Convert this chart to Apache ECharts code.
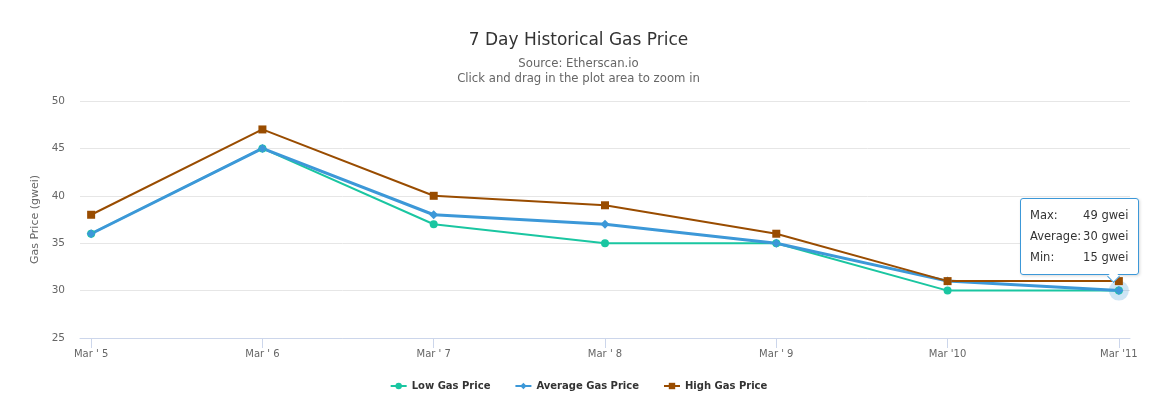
<!DOCTYPE html>
<html>
<head>
<meta charset="utf-8">
<title>7 Day Historical Gas Price</title>
<script src="https://cdn.jsdelivr.net/npm/echarts@6/dist/echarts.min.js"></script>
<style>
  html, body { margin: 0; padding: 0; background: #fff; }
  #chart { width: 1157px; height: 403px; }
</style>
</head>
<body>
<div id="chart"></div>
<script>
// Data
const categories = ["Mar ' 5", "Mar ' 6", "Mar ' 7", "Mar ' 8", "Mar ' 9", "Mar '10", "Mar '11"];
const lowValues = [36, 45, 37, 35, 35, 30, 30];
const averageValues = [36, 45, 38, 37, 35, 31, 30];
const highValues = [38, 47, 40, 39, 36, 31, 31];
const yTicks = [25, 30, 35, 40, 45, 50];

// Tooltip shown on the last day (as in the reference)
const tipLabels = ['Max:', 'Average:', 'Min:'];
const tipValues = [49, 30, 15];
const tipIndex = 6;

const FONT = '"DejaVu Sans", Verdana, sans-serif';
const COLORS = { low: '#1ac6a1', average: '#3c98d8', high: '#994c00' };

// x is a value axis so the plot can have a little padding either side,
// ticks and labels are pinned to the category indexes
const catIndex = categories.map((_, i) => i);
const pairs = (arr) => arr.map((v, i) => [i, v]);

const chart = echarts.init(document.getElementById('chart'), null, { renderer: 'canvas' });

const subStyle = { fontFamily: FONT, fontSize: 11.7, fontWeight: 'normal', color: '#666' };

chart.setOption({
  animation: false,
  backgroundColor: '#fff',
  textStyle: { fontFamily: FONT },
  title: [
    {
      text: '7 Day Historical Gas Price',
      left: 'center',
      top: 27,
      textStyle: { fontFamily: FONT, fontSize: 17, fontWeight: 'normal', color: '#333' },
    },
    { text: 'Source: Etherscan.io', left: 'center', top: 58, padding: 0, textStyle: subStyle },
    { text: 'Click and drag in the plot area to zoom in', left: 'center', top: 73, padding: 0, textStyle: subStyle },
  ],
  grid: { left: 80, right: 27, top: 101, bottom: 65 },
  legend: {
    bottom: 7,
    left: 'center',
    itemGap: 24,
    itemWidth: 16,
    itemHeight: 8,
    textStyle: { fontFamily: FONT, fontSize: 10, fontWeight: 'bold', color: '#333' },
    data: ['Low Gas Price', 'Average Gas Price', 'High Gas Price'],
  },
  tooltip: {
    trigger: 'item',
    alwaysShowContent: true,
    showDelay: 0,
    transitionDuration: 0,
    backgroundColor: 'rgba(255,255,255,0.96)',
    borderColor: COLORS.average,
    borderWidth: 1,
    padding: [6, 10, 6, 9],
    extraCssText: 'border-radius:3px;box-shadow:1px 1px 3px rgba(0,0,0,0.15);overflow:visible;',
    position: function (point, params, dom, rect, size) {
      return [point[0] - size.contentSize[0] + 20, point[1] - size.contentSize[1] - 16];
    },
    formatter: function () {
      const rows = tipLabels.map((l, i) =>
        '<tr><td style="padding:2px 2px 2px 0">' + l + '</td>' +
        '<td style="padding:2px 0;text-align:right">' + tipValues[i] + ' gwei</td></tr>'
      ).join('');
      return '<div style="position:relative;font-family:' + FONT.replace(/"/g, "'") +
        ';font-size:11.5px;color:#333;line-height:17px">' +
        '<table style="border-collapse:collapse">' + rows + '</table>' +
        '<div style="position:absolute;right:10px;bottom:-13px;width:8px;height:8px;' +
        'background:#fff;border-right:1px solid ' + COLORS.average + ';border-bottom:1px solid ' +
        COLORS.average + ';transform:rotate(45deg)"></div></div>';
    },
  },
  xAxis: {
    type: 'value',
    min: -0.065,
    max: 6.065,
    splitLine: { show: false },
    axisLine: { show: true, lineStyle: { color: '#ccd6eb' } },
    axisTick: { show: true, length: 10, lineStyle: { color: '#ccd6eb' }, customValues: catIndex },
    axisLabel: {
      customValues: catIndex,
      margin: 11,
      fontFamily: FONT,
      fontSize: 10,
      color: '#666',
      formatter: (v) => categories[Math.round(v)],
    },
  },
  yAxis: {
    type: 'value',
    min: yTicks[0],
    max: yTicks[yTicks.length - 1],
    interval: 5,
    name: 'Gas Price (gwei)',
    nameLocation: 'middle',
    nameGap: 38,
    nameTextStyle: { fontFamily: FONT, fontSize: 11, color: '#666' },
    axisLine: { show: false },
    axisTick: { show: false },
    axisLabel: { margin: 15, fontFamily: FONT, fontSize: 10.5, color: '#666' },
    splitLine: { lineStyle: { color: '#e6e6e6' } },
  },
  series: [
    {
      name: 'Low Gas Price',
      type: 'line',
      data: pairs(lowValues),
      color: COLORS.low,
      symbol: 'circle',
      symbolSize: 8,
      lineStyle: { width: 2 },
      emphasis: { disabled: true },
    },
    {
      name: 'Average Gas Price',
      type: 'line',
      data: pairs(averageValues),
      color: COLORS.average,
      symbol: 'diamond',
      symbolSize: 9,
      lineStyle: { width: 3 },
      emphasis: { disabled: true },
      markPoint: {
        silent: true,
        symbol: 'circle',
        symbolSize: 20,
        itemStyle: { color: 'rgba(60,152,216,0.25)' },
        label: { show: false },
        data: [{ coord: [tipIndex, averageValues[tipIndex]] }],
        z: 1,
      },
      z: 3,
    },
    {
      name: 'High Gas Price',
      type: 'line',
      data: pairs(highValues),
      color: COLORS.high,
      symbol: 'rect',
      symbolSize: 8,
      lineStyle: { width: 2 },
      emphasis: { disabled: true },
    },
  ],
});

chart.dispatchAction({ type: 'showTip', seriesIndex: 1, dataIndex: tipIndex });
</script>
</body>
</html>
